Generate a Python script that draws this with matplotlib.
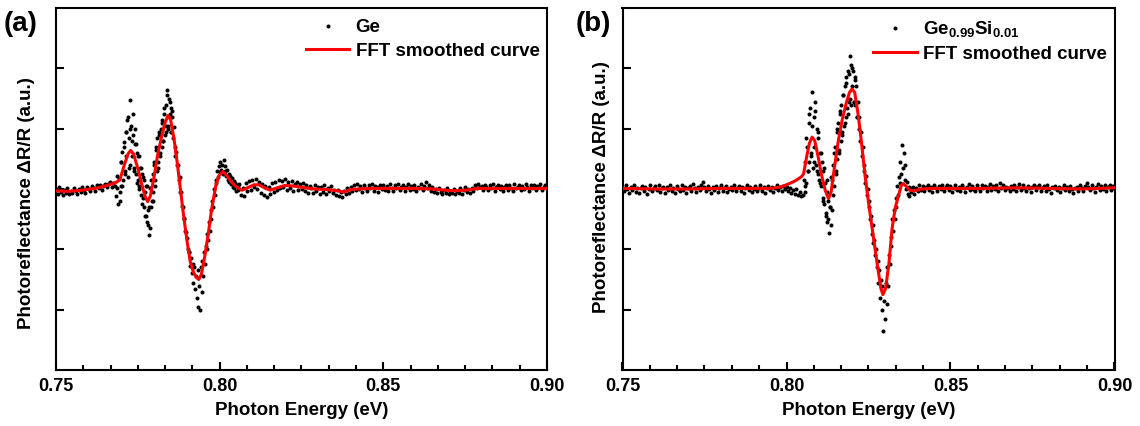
import numpy as np
import matplotlib
matplotlib.use("Agg")
import matplotlib.pyplot as plt
from matplotlib.ticker import FixedLocator

plt.rcParams['font.family'] = ['Liberation Sans', 'DejaVu Sans']
plt.rcParams['font.weight'] = 'bold'
plt.rcParams['mathtext.fontset'] = 'custom'
plt.rcParams['mathtext.rm'] = 'Liberation Sans:bold'
plt.rcParams['mathtext.bf'] = 'Liberation Sans:bold'

# ---------------- Panel (a): Ge ----------------
ge_seg1_start, ge_seg1_step = 0.750, 0.0005
ge_seg1 = [-0.02, -0.08, 0.03, -0.05, -0.10, -0.01, -0.06, 0.02, -0.09, -0.04,
           -0.07, 0.01, -0.03, -0.08, 0.00, -0.05, 0.03, -0.02, -0.06, 0.04,
           0.00, -0.04, 0.05, 0.01, -0.03, 0.06, 0.02, 0.07, -0.01, 0.05,
           0.09, 0.03, 0.08, 0.12, 0.04, 0.10]
ge_seg2_start, ge_seg2_step = 0.768, 0.00025
ge_seg2 = [0.05, -0.12, 0.22, 0.02, -0.25, 0.18, -0.05,
           0.45, 0.05, 0.62, 0.15, 0.78,
           0.30, 0.95, 0.55, 1.15, 0.20, 0.85, 1.47, 0.40,
           1.05, 0.55, 0.90, 0.35, 0.75, 1.00, 0.25, 0.60,
           0.15, 0.55, 0.05, 0.35, -0.10, 0.25, -0.15,
           0.15, -0.30, -0.05, -0.45, 0.05, -0.60, -0.35, -0.76, 0.02, -0.30,
           -0.20, 0.25, -0.05, 0.45, 0.15, 0.65, 0.30, 0.85,
           0.45, 0.90, 0.60, 1.00, 0.70, 1.15, 0.80, 1.25,
           0.90, 1.40, 1.05, 1.64, 1.00, 1.50, 1.25, 1.35,
           0.95, 1.20, 0.85, 1.02, 0.70, 0.55, 0.62,
           0.40, 0.40, 0.15, 0.20, -0.05, -0.05, -0.28, -0.30,
           -0.50, -0.48, -0.70, -0.72, -0.82, -1.00, -1.05, -1.05, -1.28,
           -1.15, -1.40, -1.25, -1.55, -1.30, -1.65, -1.45, -1.80, -1.35, -1.95,
           -1.60, -2.00, -1.30, -1.70, -1.20, -1.45,
           -1.05, -1.25, -0.95, -1.00, -0.75, -0.85, -0.55, -0.70, -0.35, -0.50,
           -0.20, -0.30, 0.00, -0.10,
           0.10, 0.15, 0.30, 0.20, 0.38, 0.28, 0.45, 0.32, 0.40, 0.25, 0.48, 0.30, 0.38,
           0.22, 0.32, 0.15, 0.25, 0.12, 0.22, 0.08, 0.18, 0.04, 0.14, 0.02, 0.10,
           -0.04, 0.07, -0.02, 0.05]
# extra readings inside the busy Ge region (second sweep, 0.7695 - 0.7855 eV)
ge_seg2b_start, ge_seg2b_step = 0.7695, 0.0004
ge_seg2b = [-0.20, 0.45, 0.05, 0.70, 0.25, 0.95, 1.20, 0.35, 1.00, 0.80,
            1.25, 0.30, 0.75, 0.10, 0.55, 0.00, 0.35, -0.25, 0.20, -0.45,
            0.05, -0.55, -0.30, -0.65, 0.15, -0.20, 0.40, 0.05, 0.70, 0.35,
            0.95, 0.55, 1.10, 0.80, 1.35, 0.95, 1.55, 1.05, 1.45, 0.95, 1.30]
ge_seg3_start, ge_seg3_step = 0.806, 0.0005
ge_seg3 = [0.08, -0.10, 0.02, -0.12, 0.10, -0.04, 0.13, -0.02, 0.15, 0.03,
           0.16, 0.00, 0.12, -0.06, 0.08, -0.10, 0.05, -0.13, 0.04, -0.08,
           0.10, -0.05, 0.12, -0.02, 0.15, 0.01, 0.13, 0.04, 0.16, -0.01,
           0.11, 0.02, 0.14, -0.03, 0.09, 0.12, -0.02, 0.08, 0.00, 0.10,
           -0.04, 0.07, -0.06, 0.05, 0.02, -0.07, 0.06, -0.03, 0.04, -0.08,
           0.03, -0.05, 0.06, -0.09, 0.01, -0.04, 0.05, -0.07, -0.01, -0.10,
           -0.02, -0.12, -0.05, -0.14, -0.03, -0.09, 0.02, -0.06, 0.04, -0.03,
           0.06, -0.02, 0.08, 0.00, 0.05, -0.05, 0.07, 0.02, -0.04, 0.06,
           0.01, 0.08, -0.03, 0.05, 0.03, -0.05, 0.07, 0.00, 0.06, -0.02,
           0.05, -0.04, 0.08, 0.02, -0.03, 0.06, 0.01, 0.09, -0.02, 0.04,
           0.07, -0.03, 0.03, 0.08, -0.01, 0.05, 0.00, 0.07, -0.04, 0.04,
           0.02, 0.09, -0.02, 0.05, 0.11, 0.01, 0.06, -0.03, 0.04, -0.05,
           0.00, -0.07, 0.02, -0.05, -0.09, -0.01, -0.06, 0.01, -0.08, -0.03,
           -0.07, 0.00, -0.09, -0.04, -0.06, 0.01, -0.08, -0.02, 0.03, -0.05,
           0.00, -0.06, 0.02, -0.03, 0.06, 0.01, 0.08, 0.03, 0.05, -0.01,
           0.07, 0.03, -0.02, 0.06, 0.01, 0.08, -0.03, 0.04, 0.07, 0.00,
           0.05, -0.04, 0.03, 0.07, -0.01, 0.06, 0.02, -0.03, 0.08, 0.01,
           0.04, 0.07, -0.02, 0.05, 0.00, 0.08, 0.03, -0.04, 0.06, 0.02,
           0.07, -0.01, 0.05, 0.03, 0.08, -0.02, 0.04, 0.06, 0.01]

ge_fit_x = [0.750, 0.754, 0.758, 0.762, 0.765, 0.768, 0.7695, 0.7710, 0.7720, 0.7728,
            0.7737, 0.7750, 0.7762, 0.7772, 0.7780, 0.7788, 0.7798, 0.7810, 0.7822, 0.7832,
            0.7842, 0.7850, 0.7860, 0.7870, 0.7880, 0.7890, 0.7900, 0.7910, 0.7920, 0.7928,
            0.7936, 0.7944, 0.7955, 0.7965, 0.7975, 0.7988, 0.7998, 0.8010, 0.8022, 0.8035,
            0.8050, 0.8068, 0.8085, 0.8105, 0.8120, 0.8140, 0.8155, 0.8175, 0.8200, 0.8225,
            0.8260, 0.8290, 0.8330, 0.8360, 0.8380, 0.8400, 0.8450, 0.8500, 0.8550, 0.8600,
            0.8650, 0.8690, 0.8715, 0.8750, 0.8790, 0.8850, 0.8900, 0.8950, 0.9000]
ge_fit_y = [-0.03, -0.04, -0.02, 0.01, 0.05, 0.10, 0.15, 0.42, 0.58, 0.64,
            0.58, 0.34, 0.08, -0.12, -0.21, -0.12, 0.15, 0.55, 0.85, 1.08,
            1.22, 1.15, 0.85, 0.45, 0.00, -0.45, -0.85, -1.20, -1.38, -1.46,
            -1.50, -1.42, -1.10, -0.75, -0.35, 0.05, 0.22, 0.29, 0.22, 0.12,
            0.04, -0.02, 0.02, 0.07, 0.07, 0.01, -0.02, 0.02, 0.06, 0.05,
            0.02, 0.00, -0.01, -0.03, -0.05, -0.01, 0.01, 0.01, 0.01, 0.01,
            0.00, -0.02, -0.03, -0.02, 0.01, 0.01, 0.01, 0.01, 0.01]

# ---------------- Panel (b): Ge0.99Si0.01 ----------------
gesi_seg1_start, gesi_seg1_step = 0.750, 0.0005
gesi_seg1 = [0.03, -0.04, 0.06, 0.00, -0.06, 0.04, -0.02, 0.07, -0.05, 0.02,
             -0.07, 0.01, 0.05, -0.03, 0.03, -0.08, 0.00, 0.06, -0.04, 0.02,
             0.05, -0.02, 0.07, -0.05, 0.01, 0.04, -0.06, 0.03, -0.01, 0.06,
             -0.03, 0.02, -0.07, 0.05, 0.00, -0.04, 0.06, -0.02, 0.03, -0.06,
             0.01, 0.05, -0.03, 0.08, 0.02, -0.05, 0.04, -0.01, 0.06, 0.11,
             0.03, -0.04, 0.05, 0.00, -0.06, 0.03, -0.02, 0.05, -0.05, 0.01,
             0.06, -0.03, 0.02, 0.05, -0.05, 0.00, 0.04, -0.02, 0.07, -0.04,
             0.02, 0.05, -0.03, 0.03, -0.06, 0.01, 0.06, -0.02, 0.04, -0.05,
             0.00, 0.05, -0.04, 0.02, 0.06, -0.03, 0.03, -0.06, 0.01, 0.05,
             -0.02, 0.04, -0.05, 0.02, 0.06, -0.01, 0.03, -0.04, 0.05, 0.00,
             0.03, -0.03, 0.01, -0.06, -0.02, -0.08, 0.00, -0.10, -0.05, -0.12]
gesi_seg2_start, gesi_seg2_step = 0.805, 0.00025
gesi_seg2 = [-0.10, 0.15, -0.05, 0.45, 0.10, 0.70, 0.30, 1.10, 0.45, 1.35,
             0.60, 1.60, 0.35, 1.20, 0.70, 1.45, 0.40, 1.00, 0.25, 0.85,
             0.15, 0.60, 0.05, 0.45, -0.15, 0.30, -0.25, 0.10, -0.40, -0.05,
             -0.55, -0.20, -0.73, -0.30, -0.60, 0.15, -0.35, 0.40, 0.05, 0.70,
             0.30, 0.95, 0.50, 1.10, 0.65, 1.25, 0.80, 1.40, 0.95, 1.55,
             1.05, 1.70, 1.20, 1.85, 1.35, 1.95, 1.45, 2.20, 1.50, 2.05,
             1.70, 1.95, 1.45, 1.85, 1.40, 1.70, 1.20, 1.45, 1.00, 1.20,
             0.80, 0.95, 0.55, 0.70, 0.30, 0.40, 0.10, 0.22, -0.10, 0.00,
             -0.30, -0.20, -0.50, -0.45, -0.75, -0.60, -0.90, -0.85, -1.10, -1.00,
             -1.30, -1.20, -1.55, -1.35, -1.80, -1.50, -2.00, -1.60, -2.36, -1.85,
             -2.15, -1.55, -1.90, -1.30, -1.60, -1.10, -1.25, -0.80, -0.95, -0.50,
             -0.70, -0.35, -0.50, -0.15, -0.30, 0.05, -0.10, 0.20, 0.10, 0.45,
             0.25, 0.73, 0.35, 0.60, 0.15, 0.40, 0.00, 0.12, -0.08, 0.04,
             -0.12, 0.02]
# extra readings inside the busy GeSi region (second sweep, 0.8056 - 0.8214 eV)
gesi_seg2b_start, gesi_seg2b_step = 0.8056, 0.00045
gesi_seg2b = [0.05, 0.85, 0.30, 1.25, 0.55, 1.05, 0.45, 1.30, 0.30, 0.95,
              0.10, 0.60, -0.20, 0.35, -0.45, 0.15, -0.50, -0.30, 0.20, -0.10,
              0.60, 0.25, 1.00, 0.60, 1.30, 0.90, 1.55, 1.10, 1.75, 1.25,
              1.90, 1.40, 2.00, 1.45, 1.80, 1.20]
gesi_seg3_start, gesi_seg3_step = 0.838, 0.0005
gesi_seg3 = [-0.05, 0.04, -0.08, 0.02, -0.03, 0.06, -0.01, 0.05, -0.04, 0.03,
             0.07, -0.02, 0.04, -0.05, 0.06, 0.01, -0.03, 0.05, 0.00, 0.07,
             -0.04, 0.03, 0.06, -0.02, 0.05, -0.05, 0.02, 0.07, -0.01, 0.04,
             -0.03, 0.06, 0.01, -0.05, 0.04, 0.08, -0.02, 0.05, 0.00, -0.04,
             0.06, 0.02, -0.03, 0.07, 0.01, 0.05, -0.04, 0.03, 0.08, -0.01,
             0.05, 0.00, 0.07, -0.03, 0.10, 0.02, 0.06, -0.02, 0.04, 0.01,
             -0.04, 0.05, 0.00, 0.07, -0.03, 0.04, 0.09, -0.01, 0.06, 0.02,
             -0.03, 0.05, 0.01, -0.05, 0.04, 0.07, -0.02, 0.03, 0.06, -0.04,
             0.02, 0.05, -0.03, 0.06, 0.00, -0.06, 0.03, 0.01, 0.05, -0.02,
             0.04, -0.05, 0.02, 0.06, -0.01, 0.03, -0.04, 0.05, 0.00, -0.06,
             0.01, 0.04, -0.03, 0.07, 0.02, -0.04, 0.05, 0.10, 0.03, -0.02,
             0.06, 0.01, -0.05, 0.04, 0.08, -0.02, 0.05, 0.00, 0.07, -0.04,
             0.03, 0.06, -0.01, 0.05, 0.02]

gesi_fit_x = [0.750, 0.760, 0.770, 0.780, 0.790, 0.795, 0.798, 0.800, 0.8025, 0.8045,
              0.8052, 0.8062, 0.8070, 0.8078, 0.8086, 0.8096, 0.8106, 0.8118, 0.8128, 0.8136,
              0.8146, 0.8158, 0.8170, 0.8182, 0.8192, 0.8200, 0.8208, 0.8218, 0.8228, 0.8240,
              0.8252, 0.8265, 0.8278, 0.8288, 0.8294, 0.8302, 0.8312, 0.8322, 0.8332, 0.8342,
              0.8350, 0.8356, 0.8364, 0.8375, 0.8390, 0.8410, 0.845, 0.850, 0.860, 0.870,
              0.880, 0.890, 0.900]
gesi_fit_y = [0.01, 0.00, 0.00, 0.01, 0.01, 0.01, 0.03, 0.07, 0.13, 0.20,
              0.25, 0.55, 0.76, 0.86, 0.80, 0.55, 0.25, -0.02, -0.16, -0.05,
              0.35, 0.80, 1.15, 1.42, 1.60, 1.66, 1.60, 1.25, 0.80, 0.20,
              -0.30, -0.80, -1.30, -1.65, -1.75, -1.65, -1.25, -0.65, -0.30, -0.10,
              0.06, 0.09, 0.05, -0.02, -0.03, 0.00, 0.01, 0.01, 0.01, 0.02,
              0.01, 0.00, 0.02]

x_ticks = [0.75, 0.80, 0.85, 0.90]
x_tick_labels = ['0.75', '0.80', '0.85', '0.90']
y_ticks = [-2, -1, 0, 1, 2]


def seg_x(start, step, vals):
    return start + step * np.arange(len(vals))


def build(segs):
    xs, ys = [], []
    for start, step, vals in segs:
        xs.append(seg_x(start, step, vals))
        ys.append(np.array(vals))
    return np.concatenate(xs), np.concatenate(ys)


ge_x, ge_y = build([(ge_seg1_start, ge_seg1_step, ge_seg1),
                    (ge_seg2_start, ge_seg2_step, ge_seg2),
                    (ge_seg2b_start, ge_seg2b_step, ge_seg2b),
                    (ge_seg3_start, ge_seg3_step, ge_seg3)])
gesi_x, gesi_y = build([(gesi_seg1_start, gesi_seg1_step, gesi_seg1),
                        (gesi_seg2_start, gesi_seg2_step, gesi_seg2),
                        (gesi_seg2b_start, gesi_seg2b_step, gesi_seg2b),
                        (gesi_seg3_start, gesi_seg3_step, gesi_seg3)])

fig = plt.figure(figsize=(11.4, 4.26), dpi=100)
ax_a = fig.add_axes([56 / 1140, 56 / 426, 491 / 1140, 362 / 426])
ax_b = fig.add_axes([622.5 / 1140, 56 / 426, 492 / 1140, 362 / 426])

panels = [
    (ax_a, ge_x, ge_y, ge_fit_x, ge_fit_y, 'Ge', '(a)', 4 / 1140, (-0.042, 0.46)),
    (ax_b, gesi_x, gesi_y, gesi_fit_x, gesi_fit_y,
     r'$\mathbf{Ge_{0.99}Si_{0.01}}$', '(b)', 576 / 1140, (-0.026, 0.505)),
]

minor_locs = [0.75 + i * 0.05 / 6 for i in range(19)]

for ax, sx, sy, fx, fy, lab, plab, px, ylc in panels:
    ax.plot(sx, sy, 'o', color='black', ms=2.9, mew=0, ls='none', label=lab, zorder=2)
    ax.plot(fx, fy, '-', color='#ff0000', lw=2.2, label='FFT smoothed curve', zorder=3)
    ax.set_xlim(0.75, 0.90)
    ax.set_ylim(-3, 3)
    ax.set_xticks(x_ticks)
    ax.set_xticklabels(x_tick_labels)
    ax.xaxis.set_minor_locator(FixedLocator(minor_locs))
    ax.set_yticks(y_ticks)
    ax.set_yticklabels([])
    ax.tick_params(axis='x', which='major', direction='in', length=6, width=1.5,
                   labelsize=13, pad=6)
    ax.tick_params(axis='x', which='minor', direction='in', length=3.3, width=1.5)
    ax.tick_params(axis='y', which='major', direction='in', length=6, width=1.5)
    for sp in ax.spines.values():
        sp.set_linewidth(1.5)
    for t in ax.get_xticklabels():
        t.set_fontweight('bold')
    ax.set_xlabel('Photon Energy (eV)', fontsize=13.5, fontweight='bold', labelpad=5)
    ax.set_ylabel('Photoreflectance ΔR/R (a.u.)', fontsize=13.5, fontweight='bold')
    ax.yaxis.set_label_coords(*ylc)
    leg = ax.legend(loc='upper right', bbox_to_anchor=(1.0, 0.99), frameon=False,
                    prop={'weight': 'bold', 'size': 13.5}, handlelength=2.3,
                    handletextpad=0.35, labelspacing=0.35, borderaxespad=0.2,
                    borderpad=0.2, markerscale=1.0)
    fig.text(px, 1 - 24 / 426, plab, fontsize=20, fontweight='bold', va='center',
             ha='left')

fig.savefig('out.png', dpi=100)
